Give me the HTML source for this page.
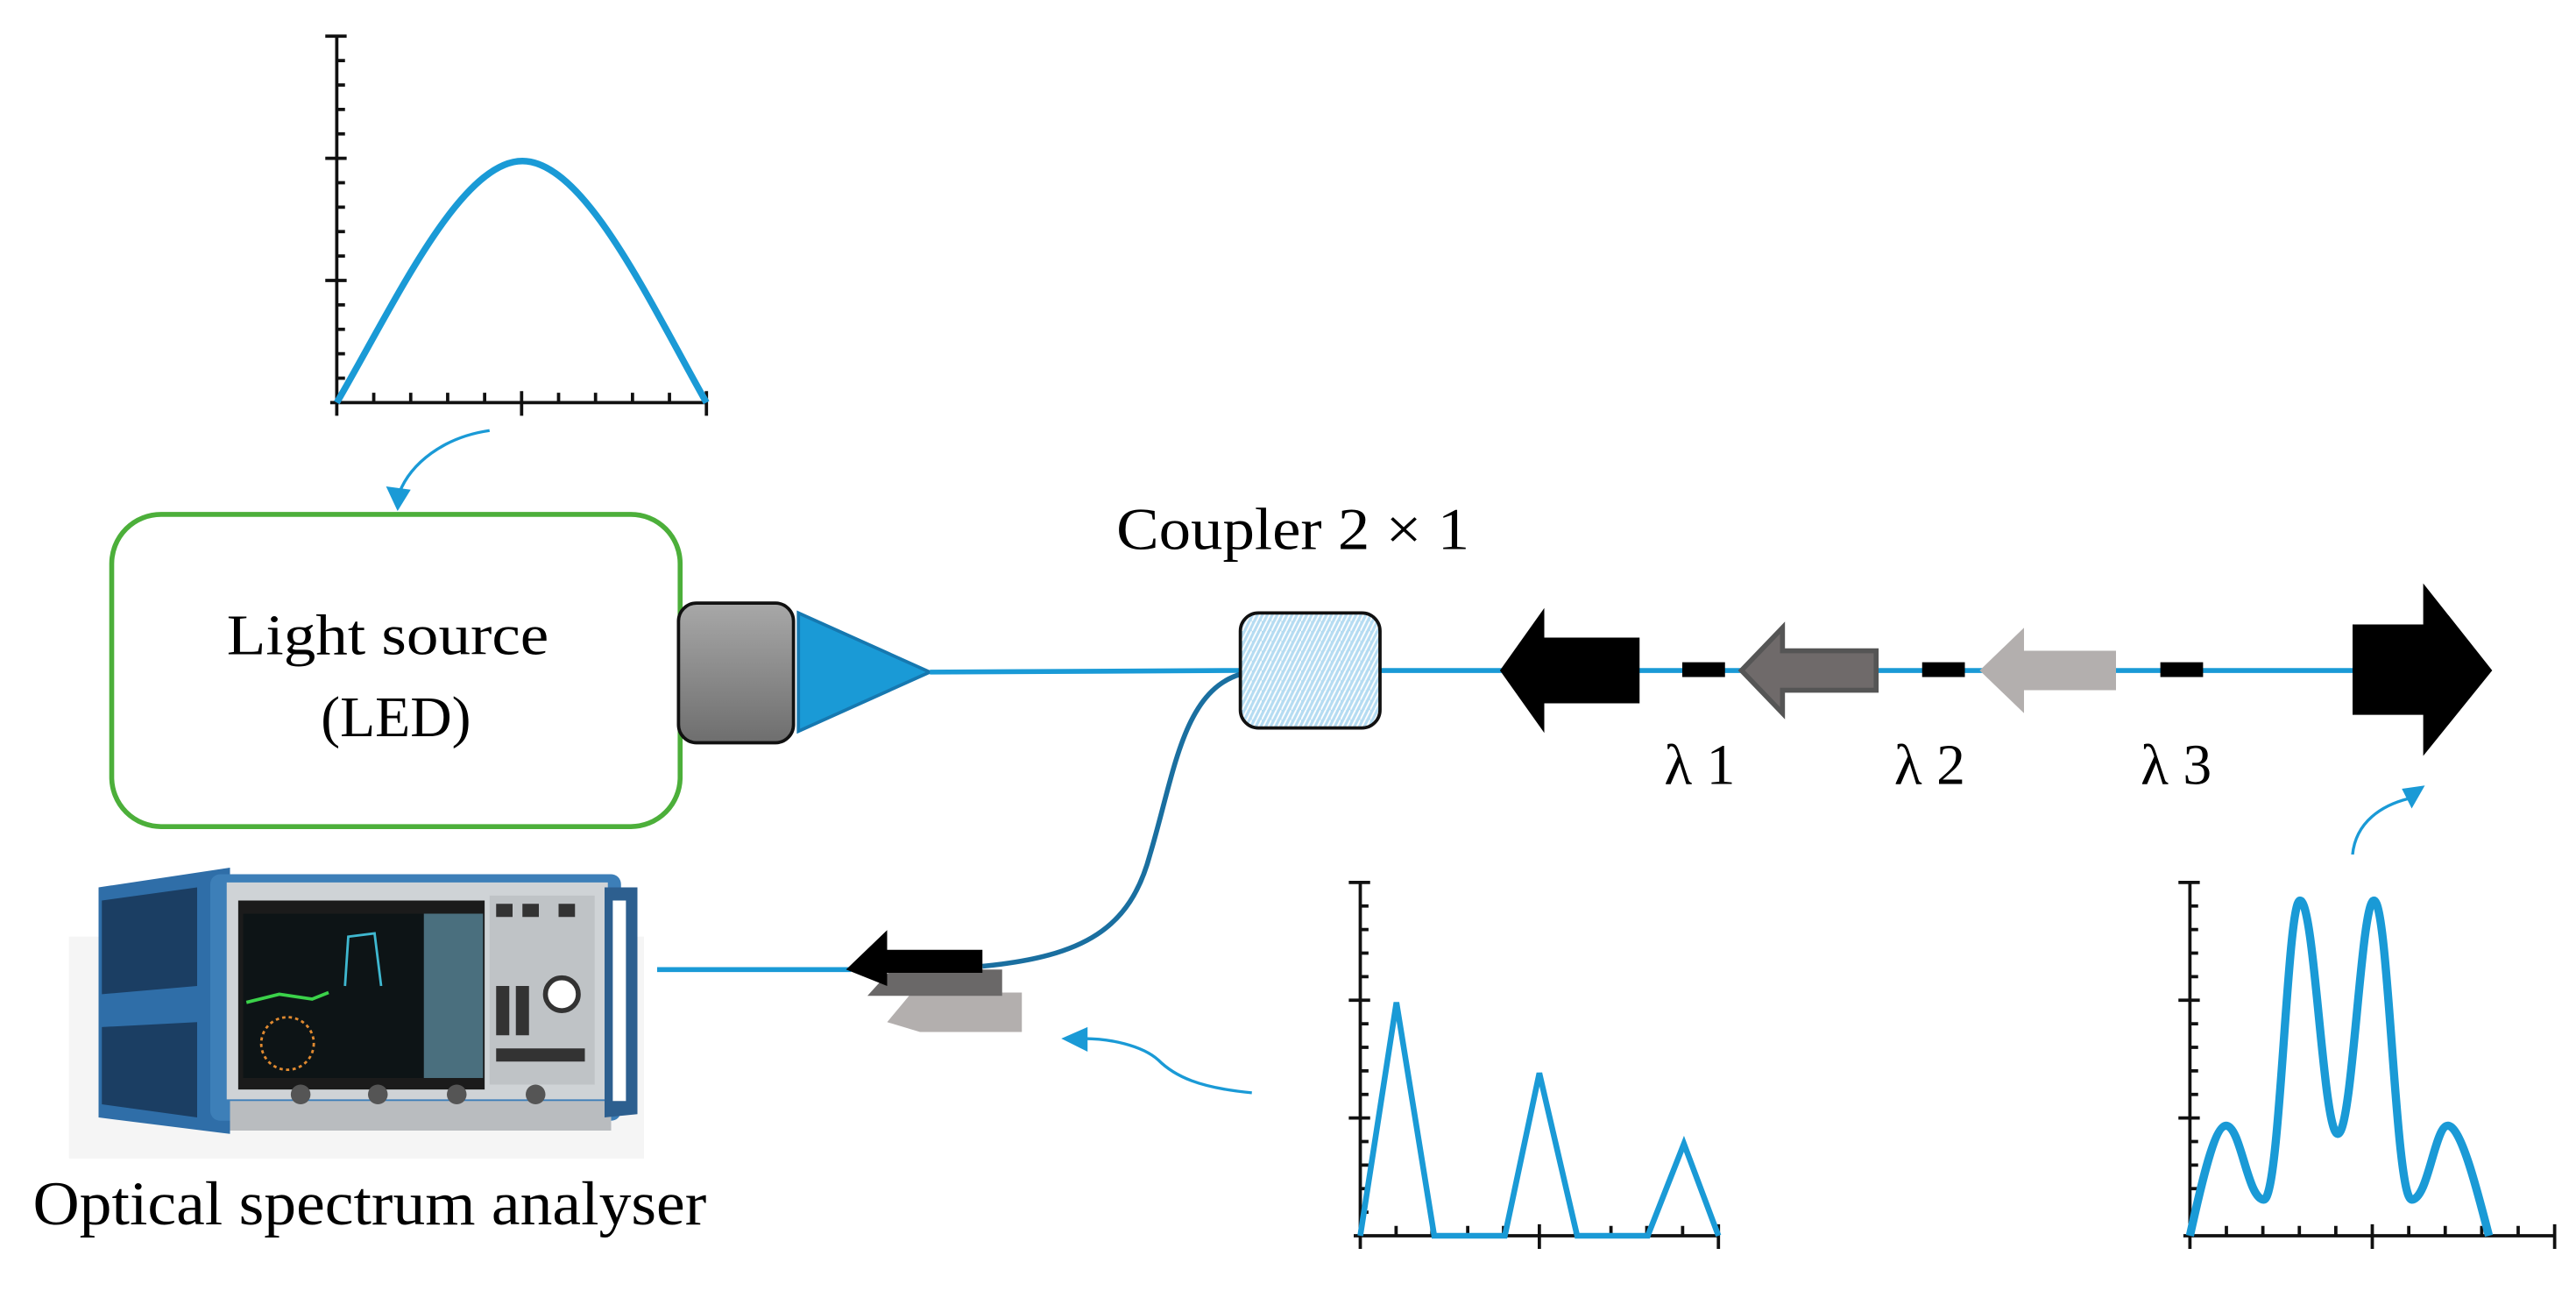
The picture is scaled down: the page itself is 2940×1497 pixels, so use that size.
<!DOCTYPE html>
<html><head><meta charset="utf-8"><style>
html,body{margin:0;padding:0;background:#fff;width:2940px;height:1497px;overflow:hidden}
svg{display:block}
text{font-family:"Liberation Serif",serif;fill:#000}
</style></head><body>
<svg id="s" width="2940" height="1497" viewBox="0 0 1568 798.4" preserveAspectRatio="none" xmlns="http://www.w3.org/2000/svg">
<defs>
<linearGradient id="gg" x1="0" y1="0" x2="0" y2="1"><stop offset="0" stop-color="#a8a8a8"/><stop offset="1" stop-color="#6e6e6e"/></linearGradient>
<pattern id="hp" width="6" height="6" patternUnits="userSpaceOnUse"><rect width="6" height="6" fill="#b5dcf2"/><path d="M0 6 L3 0 M3 6 L6 0" stroke="#fff" stroke-width="1"/></pattern>
</defs>
<g id="ticks" stroke="#111" stroke-width="2" fill="none"></g>

<path d="M205 245 C240 185 280 98 318 98 C356 98 396 185 430 245" fill="none" stroke="#1a9ad6" stroke-width="4"/>
<path d="M298 262 C270 266 250 282 243 300" fill="none" stroke="#1a9ad6" stroke-width="1.8"/>
<path d="M235 296 L250 298 L242 311 Z" fill="#1a9ad6"/>

<rect x="68" y="313" width="346" height="190" rx="30" fill="none" stroke="#4caf3a" stroke-width="3"/>
<text x="236" y="398" font-size="35" text-anchor="middle" textLength="196" lengthAdjust="spacingAndGlyphs">Light  source</text>
<text x="241" y="448" font-size="35" text-anchor="middle">(LED)</text>
<rect x="413" y="367" width="70" height="85" rx="11" fill="url(#gg)" stroke="#111" stroke-width="2"/>
<path d="M486 373 L486 445 L566 409 Z" fill="#1a9ad6" stroke="#1678b0" stroke-width="2"/>

<line x1="566" y1="409" x2="755" y2="408" stroke="#1a9ad6" stroke-width="3"/>
<line x1="840" y1="408" x2="1435" y2="408" stroke="#1a9ad6" stroke-width="3"/>
<path d="M756 410 C720 420 715 470 700 520 C688 565 660 582 598 588" fill="none" stroke="#1a6fa0" stroke-width="3"/>
<line x1="400" y1="590" x2="518" y2="590" stroke="#1a9ad6" stroke-width="3"/>

<text x="787" y="334" font-size="36" text-anchor="middle" textLength="215" lengthAdjust="spacingAndGlyphs">Coupler 2 × 1</text>
<rect x="755" y="373" width="85" height="70" rx="11" fill="url(#hp)" stroke="#111" stroke-width="2"/>

<path d="M913 408 L940 370 L940 388 L998 388 L998 428 L940 428 L940 446 Z" fill="#000"/>
<rect x="1024" y="403" width="26" height="9" fill="#000"/>
<path d="M1060 408 L1085 382 L1085 396 L1142 396 L1142 420 L1085 420 L1085 434 Z" fill="#6f6a6a" stroke="#555" stroke-width="3"/>
<rect x="1170" y="403" width="26" height="9" fill="#000"/>
<path d="M1205 408 L1232 382 L1232 396 L1288 396 L1288 420 L1232 420 L1232 434 Z" fill="#b3afae"/>
<rect x="1315" y="403" width="26" height="9" fill="#000"/>
<path d="M1517 408 L1475 355 L1475 380 L1432 380 L1432 435 L1475 435 L1475 460 Z" fill="#000"/>
<text x="1013" y="477" font-size="35">λ 1</text>
<text x="1153" y="477" font-size="35">λ 2</text>
<text x="1303" y="477" font-size="35">λ 3</text>
<path d="M1432 520 C1434 500 1450 490 1466 486" fill="none" stroke="#1a9ad6" stroke-width="1.8"/>
<path d="M1476 478 L1462 480 L1468 492 Z" fill="#1a9ad6"/>

<path d="M540 622 L560 598 L560 604 L622 604 L622 628 L560 628 Z" fill="#b3afae"/>
<path d="M528 606 L548 584 L548 590 L610 590 L610 606 L548 606 Z" fill="#6a6868"/>
<path d="M515 590 L540 566 L540 578 L598 578 L598 592 L540 592 L540 600 Z" fill="#000"/>

<rect x="42" y="570" width="350" height="135" fill="#eee" opacity="0.6"/>
<path d="M60 540 L140 528 L140 690 L60 680 Z" fill="#2f6ea8"/>
<path d="M62 548 L120 540 L120 600 L62 605 Z M62 625 L120 622 L120 680 L62 672 Z" fill="#1b3e63"/>
<rect x="128" y="532" width="250" height="150" rx="6" fill="#3d7fb8"/>
<rect x="138" y="537" width="232" height="132" fill="#cfd3d6"/>
<rect x="145" y="548" width="150" height="115" fill="#1b1b1b"/>
<rect x="148" y="556" width="110" height="100" fill="#0d1416"/>
<path d="M150 610 L170 605 L190 608 L200 604" stroke="#3bd24a" stroke-width="2" fill="none"/>
<path d="M210 600 L212 570 L228 568 L232 600" stroke="#3fb8d0" stroke-width="1.5" fill="none"/>
<circle cx="175" cy="635" r="16" fill="none" stroke="#e08a30" stroke-width="1.5" stroke-dasharray="2 2"/>
<rect x="258" y="556" width="36" height="100" fill="#4a6f7e"/>
<rect x="298" y="545" width="64" height="115" fill="#bfc3c6"/>
<circle cx="342" cy="605" r="10" fill="#fff" stroke="#333" stroke-width="3"/>
<g fill="#333"><rect x="302" y="550" width="10" height="8"/><rect x="318" y="550" width="10" height="8"/><rect x="340" y="550" width="10" height="8"/><rect x="302" y="600" width="8" height="30"/><rect x="314" y="600" width="8" height="30"/><rect x="302" y="638" width="54" height="8"/></g>
<rect x="140" y="670" width="232" height="18" fill="#b9bcbf"/>
<g fill="#555"><circle cx="183" cy="666" r="6"/><circle cx="230" cy="666" r="6"/><circle cx="278" cy="666" r="6"/><circle cx="326" cy="666" r="6"/></g>
<path d="M368 540 L388 540 L388 678 L368 680 Z" fill="#2d5f8f"/>
<rect x="373" y="548" width="8" height="122" fill="#fff"/>
<text x="225" y="745" font-size="38" text-anchor="middle" textLength="410" lengthAdjust="spacingAndGlyphs">Optical spectrum analyser</text>

<path d="M762 665 C730 662 715 655 705 645 C695 636 675 632 660 632" fill="none" stroke="#1a9ad6" stroke-width="1.8"/>
<path d="M646 632 L662 625 L662 640 Z" fill="#1a9ad6"/>

<path d="M828 752 L850 610 L873 752 L916 752 L937 653 L960 752 L1003 752 L1025 696 L1046 752" fill="none" stroke="#1a9ad6" stroke-width="3.5"/>
<path d="M1333 752 C1340 720 1348 685 1355 685 C1364 685 1368 730 1378 730 C1388 730 1392 548 1400 548 C1409 548 1414 690 1423 690 C1432 690 1437 548 1445 548 C1454 548 1458 730 1468 730 C1478 730 1482 685 1490 685 C1498 685 1508 725 1515 752" fill="none" stroke="#1a9ad6" stroke-width="5"/>
</svg>
<script>
var g=document.getElementById('ticks'),d='';
function L(a,b,c,e){d+='M'+a+' '+b+' L'+c+' '+e+' ';}
function chart(x0,y0,x1,y1,ny,longY,nx,longX){
 L(x0,y0,x0,y1);L(x0-4,y1,x1,y1);
 for(var i=0;i<=ny;i++){var y=y0+(y1-y0)*i/ny;if(longY.indexOf(i)>=0)L(x0-7,y,x0+6,y);else L(x0,y,x0+5,y);}
 for(var j=1;j<=nx;j++){var x=x0+(x1-x0)*j/nx;if(longX.indexOf(j)>=0)L(x,y1-7,x,y1+8);else L(x,y1-6,x,y1);}
 L(x0,y1,x0,y1+8);
}
chart(205,22,430,245,15,[0,5,10],10,[5,10]);
chart(828,537,1046,752,15,[0,5,10],10,[5,10]);
chart(1333,537,1555,752,15,[0,5,10],10,[5,10]);
var p=document.createElementNS('http://www.w3.org/2000/svg','path');p.setAttribute('d',d);g.appendChild(p);
</script>
</body></html>
